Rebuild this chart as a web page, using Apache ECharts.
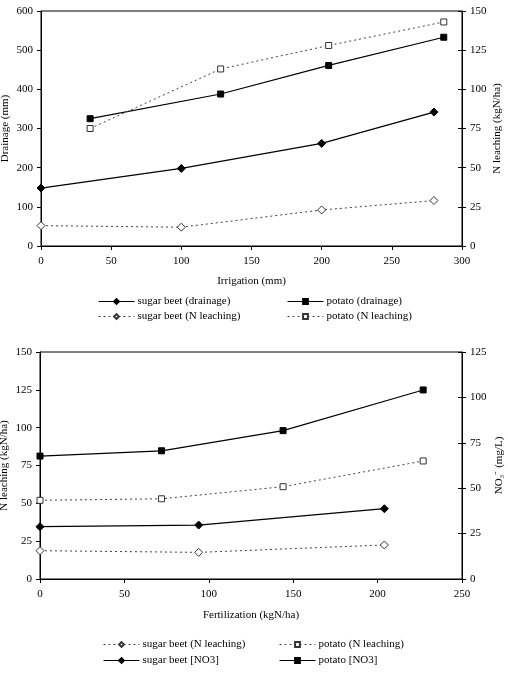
<!DOCTYPE html>
<html>
<head>
<meta charset="utf-8">
<script src="https://cdn.jsdelivr.net/npm/echarts@6/dist/echarts.min.js"></script>
<style>
  html, body { margin: 0; padding: 0; background: #fff; }
  #main { width: 508px; height: 677px; }
</style>
</head>
<body>
<div id="main"></div>
<script>
// top chart: irrigation
var irrSbX = [0, 100, 200, 280];
var irrSbDrainage = [148, 198, 262, 342];
var irrSbLeach = [13, 12, 23, 29];
var irrPoX = [35, 128, 205, 287];
var irrPoDrainage = [325, 388, 461, 533];
var irrPoLeach = [75, 113, 128, 143];

// bottom chart: fertilization
var fertSbX = [0, 94, 204];
var fertSbLeach = [18.7, 17.6, 22.5];
var fertSbNo3 = [28.8, 29.7, 38.7];
var fertPoX = [0, 72, 144, 227];
var fertPoLeach = [52, 53, 61, 78];
var fertPoNo3 = [67.7, 70.6, 81.7, 104.1];

var font = 'Liberation Serif';
var txt = { color: '#000', fontFamily: font, fontSize: 11 };

function pairs(xs, ys) {
  return xs.map(function (x, i) { return [x, ys[i]]; });
}

function lineSeries(name, xi, yi, data, solid, symbol) {
  return {
    name: name,
    type: 'line',
    xAxisIndex: xi,
    yAxisIndex: yi,
    data: data,
    symbol: symbol,
    symbolSize: symbol.indexOf('diamond') >= 0 ? 8 : 6,
    itemStyle: solid
      ? { color: '#000', borderColor: '#000', borderWidth: 1 }
      : { color: '#fff', borderColor: '#333', borderWidth: 1 },
    lineStyle: solid
      ? { color: '#000', width: 1.2 }
      : { color: '#444', width: 1, type: [2, 3] },
    animation: false
  };
}

function xAx(grid, max, name, nameGap) {
  return {
    type: 'value', gridIndex: grid, min: 0, max: max, interval: 50,
    name: name, nameLocation: 'middle', nameGap: nameGap, nameTextStyle: txt,
    nameMoveOverlap: false,
    axisLine: { lineStyle: { color: '#000' } },
    axisTick: { lineStyle: { color: '#000' }, length: 4 },
    axisLabel: Object.assign({ margin: 10 }, txt),
    splitLine: { show: false }
  };
}

function yAx(grid, max, interval, pos, name, nameGap) {
  return {
    type: 'value', gridIndex: grid, min: 0, max: max, interval: interval, position: pos,
    name: name, nameLocation: 'middle', nameGap: nameGap, nameRotate: 90, nameTextStyle: txt,
    nameMoveOverlap: false,
    axisLine: { show: true, lineStyle: { color: '#000' } },
    axisTick: { show: true, lineStyle: { color: '#000' }, length: 4 },
    axisLabel: Object.assign({ margin: 8 }, txt),
    splitLine: { show: false }
  };
}

// extra right axis only for inward ticks (cross ticks)
function yTickIn(grid, max, interval) {
  return {
    type: 'value', gridIndex: grid, min: 0, max: max, interval: interval, position: 'right',
    axisLine: { show: false },
    axisTick: { show: true, inside: true, lineStyle: { color: '#000' }, length: 4 },
    axisLabel: { show: false },
    splitLine: { show: false }
  };
}

function leg(name, left, top) {
  return {
    data: [name], left: left, top: top, itemWidth: 36, itemHeight: 6, itemGap: 0,
    lineStyle: { width: 1 },
    textStyle: Object.assign({ padding: [0, 0, 0, -2] }, txt), padding: 0
  };
}

var option = {
  backgroundColor: '#fff',
  grid: [
    { left: 41, top: 11, width: 421, height: 235, show: true, borderColor: '#000', borderWidth: 1,
      containLabel: false, outerBoundsMode: 'none' },
    { left: 40, top: 352, width: 422, height: 227, show: true, borderColor: '#000', borderWidth: 1,
      containLabel: false, outerBoundsMode: 'none' }
  ],
  xAxis: [
    xAx(0, 300, 'Irrigation (mm)', 30),
    xAx(1, 250, 'Fertilization (kgN/ha)', 31)
  ],
  yAxis: [
    yAx(0, 600, 100, 'left', 'Drainage (mm)', 30),
    yAx(0, 150, 25, 'right', 'N leaching (kgN/ha)', 30),
    yAx(1, 150, 25, 'left', 'N leaching (kgN/ha)', 30),
    yAx(1, 125, 25, 'right', 'NO\u2083\u207B (mg/L)', 32),
    yTickIn(0, 150, 25),
    yTickIn(1, 125, 25)
  ],
  legend: [
    leg('sugar beet (drainage)', 98, 296),
    leg('potato (drainage)', 287, 296),
    leg('sugar beet (N leaching)', 98, 311),
    leg('potato (N leaching)', 287, 311),
    leg('sugar beet (N leaching) ', 103, 639),
    leg('potato (N leaching) ', 279, 639),
    leg('sugar beet [NO3]', 103, 655),
    leg('potato [NO3]', 279, 655)
  ],
  series: [
    lineSeries('sugar beet (drainage)', 0, 0, pairs(irrSbX, irrSbDrainage), true, 'diamond'),
    lineSeries('potato (drainage)', 0, 0, pairs(irrPoX, irrPoDrainage), true, 'rect'),
    lineSeries('sugar beet (N leaching)', 0, 1, pairs(irrSbX, irrSbLeach), false, 'diamond'),
    lineSeries('potato (N leaching)', 0, 1, pairs(irrPoX, irrPoLeach), false, 'rect'),
    lineSeries('sugar beet (N leaching) ', 1, 2, pairs(fertSbX, fertSbLeach), false, 'diamond'),
    lineSeries('potato (N leaching) ', 1, 2, pairs(fertPoX, fertPoLeach), false, 'rect'),
    lineSeries('sugar beet [NO3]', 1, 3, pairs(fertSbX, fertSbNo3), true, 'diamond'),
    lineSeries('potato [NO3]', 1, 3, pairs(fertPoX, fertPoNo3), true, 'rect')
  ]
};

var chart = echarts.init(document.getElementById('main'), null, { renderer: 'canvas' });
chart.setOption(option);
</script>
</body>
</html>
